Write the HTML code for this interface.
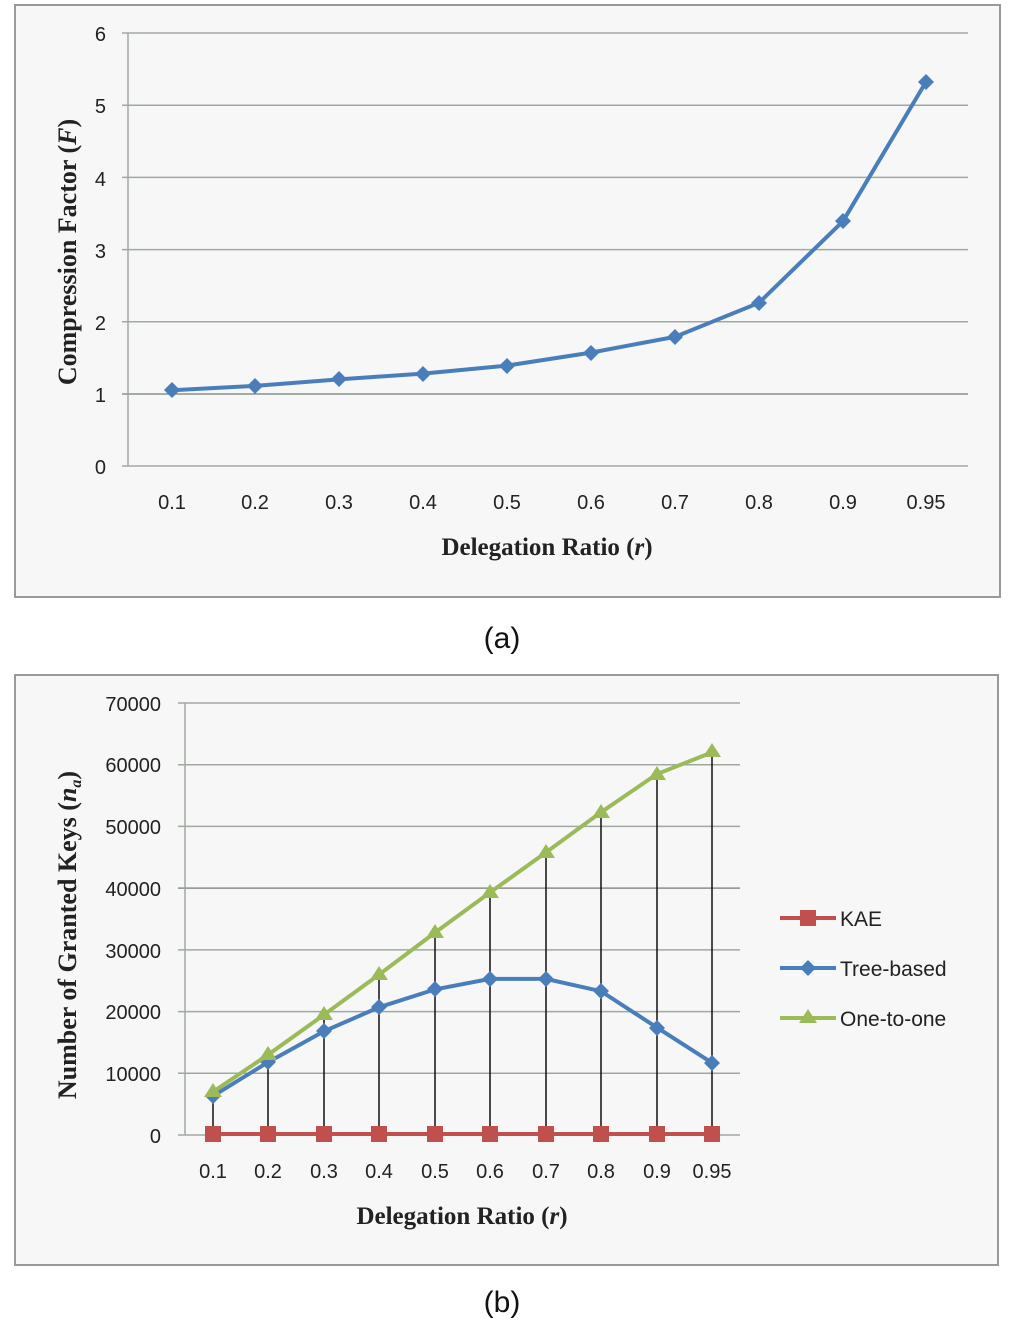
<!DOCTYPE html><html><head><meta charset="utf-8"><style>body{margin:0;background:#fff}svg{display:block}</style></head><body>
<svg width="1013" height="1325" xmlns="http://www.w3.org/2000/svg" font-family="Liberation Sans, sans-serif">
<rect x="15" y="5" width="985" height="592" fill="#f7f7f7" stroke="#999" stroke-width="2"/>
<g stroke="#a0a8a0" stroke-width="1.5">
<line x1="122" y1="33" x2="968" y2="33"/><line x1="122" y1="105.2" x2="968" y2="105.2"/><line x1="122" y1="177.4" x2="968" y2="177.4"/><line x1="122" y1="249.6" x2="968" y2="249.6"/><line x1="122" y1="321.8" x2="968" y2="321.8"/><line x1="122" y1="394" x2="968" y2="394" stroke="#889088"/><line x1="122" y1="466" x2="968" y2="466"/>
<line x1="128" y1="33" x2="128" y2="466"/></g>
<g font-size="20" fill="#222" text-anchor="end"><text x="106" y="41">6</text><text x="106" y="113">5</text><text x="106" y="186">4</text><text x="106" y="258">3</text><text x="106" y="330">2</text><text x="106" y="402">1</text><text x="106" y="474">0</text></g>
<g font-size="20" fill="#222" text-anchor="middle"><text x="172" y="509">0.1</text><text x="255" y="509">0.2</text><text x="339" y="509">0.3</text><text x="423" y="509">0.4</text><text x="507" y="509">0.5</text><text x="591" y="509">0.6</text><text x="675" y="509">0.7</text><text x="759" y="509">0.8</text><text x="843" y="509">0.9</text><text x="926" y="509">0.95</text></g>
<text x="547" y="555" font-family="Liberation Serif, serif" font-weight="bold" font-size="25" text-anchor="middle" fill="#222">Delegation Ratio (<tspan font-style="italic">r</tspan>)</text>
<text transform="translate(76,252) rotate(-90)" font-family="Liberation Serif, serif" font-weight="bold" font-size="26" text-anchor="middle" fill="#222">Compression Factor (<tspan font-style="italic">F</tspan>)</text>
<polyline fill="none" stroke="#4a7ebb" stroke-width="4" points="172,390.2 255,385.9 339,379.4 423,373.6 507,365.6 591,352.6 675,336.8 759,302.8 843,221.2 926,81.9"/>
<g fill="#4a7ebb"><path d="M172,382l8,8-8,8-8-8z"/><path d="M255,378l8,8-8,8-8-8z"/><path d="M339,371l8,8-8,8-8-8z"/><path d="M423,366l8,8-8,8-8-8z"/><path d="M507,358l8,8-8,8-8-8z"/><path d="M591,345l8,8-8,8-8-8z"/><path d="M675,329l8,8-8,8-8-8z"/><path d="M759,295l8,8-8,8-8-8z"/><path d="M843,213l8,8-8,8-8-8z"/><path d="M926,74l8,8-8,8-8-8z"/></g>
<text x="502" y="648" font-size="30" text-anchor="middle" fill="#111">(a)</text>

<rect x="15" y="675" width="983" height="590" fill="#f7f7f7" stroke="#999" stroke-width="2"/>
<g stroke="#a0a8a0" stroke-width="1.5">
<line x1="178" y1="703" x2="740" y2="703"/><line x1="178" y1="764.7" x2="740" y2="764.7"/><line x1="178" y1="826.4" x2="740" y2="826.4"/><line x1="178" y1="888.1" x2="740" y2="888.1" stroke="#889088"/><line x1="178" y1="949.9" x2="740" y2="949.9"/><line x1="178" y1="1011.6" x2="740" y2="1011.6"/><line x1="178" y1="1073.3" x2="740" y2="1073.3"/><line x1="178" y1="1135" x2="740" y2="1135"/>
<line x1="185" y1="703" x2="185" y2="1135"/></g>
<g font-size="20" fill="#222" text-anchor="end"><text x="161" y="711">70000</text><text x="161" y="772">60000</text><text x="161" y="834">50000</text><text x="161" y="896">40000</text><text x="161" y="958">30000</text><text x="161" y="1019">20000</text><text x="161" y="1081">10000</text><text x="161" y="1143">0</text></g>
<g font-size="20" fill="#222" text-anchor="middle"><text x="213" y="1178">0.1</text><text x="268" y="1178">0.2</text><text x="324" y="1178">0.3</text><text x="379" y="1178">0.4</text><text x="435" y="1178">0.5</text><text x="490" y="1178">0.6</text><text x="546" y="1178">0.7</text><text x="601" y="1178">0.8</text><text x="657" y="1178">0.9</text><text x="712" y="1178">0.95</text></g>
<text x="462" y="1224" font-family="Liberation Serif, serif" font-weight="bold" font-size="25" text-anchor="middle" fill="#222">Delegation Ratio (<tspan font-style="italic">r</tspan>)</text>
<text transform="translate(76,935) rotate(-90)" font-family="Liberation Serif, serif" font-weight="bold" font-size="26" text-anchor="middle" fill="#222">Number of Granted Keys (<tspan font-style="italic">n<tspan font-size="16" dy="5">a</tspan></tspan><tspan dy="-5">)</tspan></text>
<g stroke="#111" stroke-width="1.5"><line x1="213" y1="1135" x2="213" y2="1092"/><line x1="268" y1="1135" x2="268" y2="1055"/><line x1="324" y1="1135" x2="324" y2="1015"/><line x1="379" y1="1135" x2="379" y2="975"/><line x1="435" y1="1135" x2="435" y2="933"/><line x1="490" y1="1135" x2="490" y2="892"/><line x1="546" y1="1135" x2="546" y2="852"/><line x1="601" y1="1135" x2="601" y2="812"/><line x1="657" y1="1135" x2="657" y2="774"/><line x1="712" y1="1135" x2="712" y2="752"/></g>
<polyline fill="none" stroke="#c0504d" stroke-width="4" points="213,1134 712,1134"/>
<g fill="#c0504d"><rect x="205" y="1126" width="16" height="16"/><rect x="260" y="1126" width="16" height="16"/><rect x="316" y="1126" width="16" height="16"/><rect x="371" y="1126" width="16" height="16"/><rect x="427" y="1126" width="16" height="16"/><rect x="482" y="1126" width="16" height="16"/><rect x="538" y="1126" width="16" height="16"/><rect x="593" y="1126" width="16" height="16"/><rect x="649" y="1126" width="16" height="16"/><rect x="704" y="1126" width="16" height="16"/></g>
<polyline fill="none" stroke="#4a7ebb" stroke-width="4" points="213,1096.1 268,1062.2 324,1031.3 379,1007.3 435,989.4 490,978.9 546,978.9 601,991.2 657,1027.6 712,1062.8"/>
<g fill="#4a7ebb"><path d="M213,1088l8,8-8,8-8-8z"/><path d="M268,1054l8,8-8,8-8-8z"/><path d="M324,1023l8,8-8,8-8-8z"/><path d="M379,999l8,8-8,8-8-8z"/><path d="M435,981l8,8-8,8-8-8z"/><path d="M490,971l8,8-8,8-8-8z"/><path d="M546,971l8,8-8,8-8-8z"/><path d="M601,983l8,8-8,8-8-8z"/><path d="M657,1020l8,8-8,8-8-8z"/><path d="M712,1055l8,8-8,8-8-8z"/></g>
<polyline fill="none" stroke="#9bbb59" stroke-width="4" points="213,1091.8 268,1054.8 324,1014.7 379,974.6 435,932.6 490,892.5 546,852.4 601,812.3 657,774 712,752.4"/>
<g fill="#9bbb59"><path d="M213,1083l9,14h-18z"/><path d="M268,1046l9,14h-18z"/><path d="M324,1006l9,14h-18z"/><path d="M379,966l9,14h-18z"/><path d="M435,924l9,14h-18z"/><path d="M490,884l9,14h-18z"/><path d="M546,844l9,14h-18z"/><path d="M601,804l9,14h-18z"/><path d="M657,766l9,14h-18z"/><path d="M712,743l9,14h-18z"/></g>
<line x1="780" y1="918" x2="836" y2="918" stroke="#c0504d" stroke-width="4"/><rect x="800" y="910" width="16" height="16" fill="#c0504d"/>
<line x1="780" y1="968" x2="836" y2="968" stroke="#4a7ebb" stroke-width="4"/><path d="M808,960l8,8-8,8-8-8z" fill="#4a7ebb"/>
<line x1="780" y1="1018" x2="836" y2="1018" stroke="#9bbb59" stroke-width="4"/><path d="M808,1009l9,14h-18z" fill="#9bbb59"/>
<g font-size="21" fill="#222"><text x="840" y="926">KAE</text><text x="840" y="976">Tree-based</text><text x="840" y="1026">One-to-one</text></g>
<text x="502" y="1312" font-size="30" text-anchor="middle" fill="#111">(b)</text>
</svg></body></html>
